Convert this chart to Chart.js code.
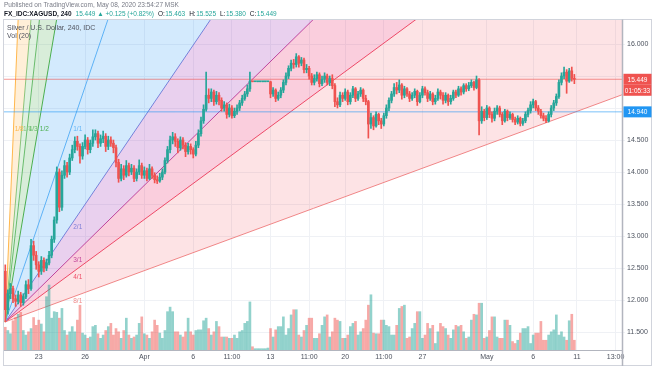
<!DOCTYPE html>
<html>
<head>
<meta charset="utf-8">
<script src="https://cdn.jsdelivr.net/npm/chart.js@4.4.1/dist/chart.umd.min.js"></script>
<style>
  html, body { margin: 0; padding: 0; background: #fff; }
</style>
</head>
<body>
<canvas id="chart" width="654" height="366"></canvas>
<script>
// XAGUSD 240 candles, Mar 19 - May 8 2020
const firstOpen = 12.45;
const close = [
  11.85, 12.10, 12.18, 12.02, 11.98, 12.08, 11.96, 12.05, 12.24, 12.18,
  12.85, 12.70, 12.55, 12.45, 12.62, 12.50, 12.58, 12.70,
  12.95, 13.25, 14.00, 13.45, 13.95, 14.10, 14.00, 14.22,
  14.35, 14.48, 14.40, 14.25,
  14.40, 14.50, 14.35, 14.45, 14.55, 14.60, 14.45, 14.52, 14.56, 14.40, 14.50, 14.45, 14.38,
  14.15, 13.90,
  14.05, 13.95, 14.10, 14.00, 14.06, 13.90, 14.00, 14.10, 13.95, 14.02, 13.90, 14.05, 13.95, 13.88, 13.86, 13.92, 14.00,
  14.18, 14.35, 14.50, 14.55, 14.48,
  14.38, 14.50, 14.42, 14.32, 14.40, 14.35, 14.28, 14.42,
  14.60, 14.80, 14.98, 15.20,
  15.15, 15.25, 15.10, 15.20, 15.12,
  15.00, 15.05, 14.90, 15.00, 14.88, 14.95,
  15.00, 15.08, 15.15, 15.22, 15.30, 15.42,
  15.41, 15.41, 15.41, 15.41, 15.41, 15.41, 15.41,
  15.22, 15.28, 15.15, 15.20, 15.28,
  15.40, 15.50, 15.62, 15.70, 15.68, 15.80,
  15.70, 15.75, 15.60, 15.62,
  15.50, 15.40, 15.46, 15.52, 15.38, 15.45, 15.50, 15.40, 15.46, 15.35,
  15.10, 15.05,
  15.20, 15.15, 15.25, 15.10, 15.20, 15.30, 15.15, 15.22, 15.28, 15.15, 15.10,
  14.75,
  14.85, 14.72, 14.90, 14.80, 14.75,
  14.88, 15.00, 15.12, 15.22, 15.32, 15.28,
  15.36, 15.20, 15.30, 15.22, 15.15, 15.20, 15.26, 15.10, 15.20, 15.30, 15.24, 15.15, 15.22, 15.10, 15.15, 15.25, 15.20,
  15.12, 15.20, 15.10, 15.15, 15.25, 15.20, 15.30, 15.25, 15.35, 15.30, 15.35, 15.40, 15.32, 15.44,
  14.80,
  14.95, 14.85, 15.00, 14.90, 14.84, 14.95, 15.00, 14.90, 14.80, 14.95, 14.85, 14.90,
  14.82, 14.78, 14.84, 14.76, 14.80,
  14.90, 14.96, 15.05, 15.10, 15.00,
  14.95, 14.88, 14.84, 14.80,
  14.90, 15.00, 15.08, 15.18, 15.40,
  15.50, 15.56, 15.42, 15.58, 15.463, 15.449
];
const high = [
  12.55, 12.16, 12.26, 12.22, 12.08, 12.14, 12.12, 12.10, 12.30, 12.32,
  12.95, 12.92, 12.76, 12.60, 12.68, 12.66, 12.64, 12.76,
  13.00, 13.30, 14.08, 14.05, 14.02, 14.18, 14.15, 14.28,
  14.42, 14.55, 14.56, 14.44,
  14.46, 14.58, 14.54, 14.50, 14.66, 14.66, 14.64, 14.58, 14.64, 14.60, 14.56, 14.55, 14.50,
  14.42, 14.20,
  14.12, 14.10, 14.18, 14.14, 14.12, 14.10, 14.05, 14.19, 14.14, 14.08, 14.06, 14.12, 14.08, 13.99, 13.94, 13.98, 14.05,
  14.22, 14.40, 14.56, 14.62, 14.60,
  14.52, 14.55, 14.54, 14.46, 14.45, 14.44, 14.38, 14.48,
  14.66, 14.86, 15.05, 15.56,
  15.30, 15.30, 15.28, 15.26, 15.24,
  15.16, 15.10, 15.08, 15.06, 15.04, 15.00,
  15.05, 15.12, 15.20, 15.26, 15.36, 15.56,
  15.42, 15.41, 15.41, 15.41, 15.41, 15.41, 15.41,
  15.42, 15.32, 15.30, 15.25, 15.32,
  15.44, 15.55, 15.66, 15.75, 15.76, 15.85,
  15.82, 15.79, 15.78, 15.68,
  15.65, 15.54, 15.52, 15.56, 15.55, 15.50, 15.55, 15.53, 15.50, 15.52,
  15.38, 15.16,
  15.25, 15.24, 15.30, 15.28, 15.24, 15.34, 15.32, 15.26, 15.32, 15.30, 15.20,
  15.12,
  14.92, 14.88, 14.94, 14.92, 14.84,
  14.92, 15.05, 15.16, 15.26, 15.38, 15.40,
  15.44, 15.38, 15.34, 15.32, 15.26, 15.24, 15.30, 15.28, 15.24, 15.34, 15.33, 15.28, 15.26, 15.24, 15.20, 15.30, 15.28,
  15.24, 15.24, 15.22, 15.20, 15.28, 15.28, 15.34, 15.33, 15.38, 15.38, 15.40, 15.44, 15.42, 15.50,
  15.46,
  15.02, 14.98, 15.04, 15.02, 14.94, 15.00, 15.04, 15.03, 14.93, 14.98, 14.97, 14.94,
  14.92, 14.86, 14.88, 14.86, 14.84,
  14.94, 15.00, 15.10, 15.14, 15.12,
  15.04, 14.98, 14.92, 14.88,
  14.94, 15.04, 15.12, 15.22, 15.44,
  15.55, 15.64, 15.60, 15.62, 15.64, 15.525
];
const low = [
  11.66, 11.78, 12.02, 11.96, 11.90, 11.94, 11.90, 11.92, 12.02, 12.10,
  12.15, 12.62, 12.48, 12.36, 12.40, 12.44, 12.46, 12.55,
  12.66, 12.90, 13.20, 13.38, 13.40, 13.90, 13.92, 13.96,
  14.18, 14.30, 14.34, 14.14,
  14.20, 14.36, 14.28, 14.30, 14.40, 14.50, 14.38, 14.40, 14.46, 14.32, 14.35, 14.40, 14.30,
  14.08, 13.84,
  13.86, 13.88, 13.92, 13.94, 13.96, 13.85, 13.86, 13.96, 13.90, 13.90, 13.86, 13.88, 13.90, 13.83, 13.82, 13.84, 13.88,
  13.97, 14.14, 14.30, 14.44, 14.40,
  14.30, 14.34, 14.36, 14.24, 14.28, 14.28, 14.22, 14.25,
  14.38, 14.56, 14.76, 14.95,
  15.08, 15.10, 15.04, 15.06, 15.05,
  14.95, 14.95, 14.84, 14.86, 14.84, 14.85,
  14.90, 14.96, 15.04, 15.12, 15.18, 15.26,
  15.41, 15.41, 15.41, 15.41, 15.41, 15.41, 15.41,
  15.16, 15.18, 15.10, 15.12, 15.16,
  15.24, 15.36, 15.46, 15.58, 15.62, 15.64,
  15.64, 15.66, 15.55, 15.55,
  15.45, 15.36, 15.36, 15.42, 15.33, 15.35, 15.40, 15.36, 15.35, 15.30,
  15.02, 15.00,
  15.02, 15.10, 15.12, 15.05, 15.06, 15.16, 15.10, 15.12, 15.18, 15.10, 15.05,
  14.53,
  14.68, 14.66, 14.70, 14.74, 14.68,
  14.72, 14.84, 14.96, 15.08, 15.18, 15.22,
  15.24, 15.14, 15.16, 15.18, 15.10, 15.12, 15.16, 15.04, 15.08, 15.16, 15.20, 15.10, 15.12, 15.05, 15.06, 15.12, 15.14,
  15.06, 15.08, 15.04, 15.06, 15.12, 15.16, 15.18, 15.20, 15.22, 15.26, 15.27, 15.32, 15.28, 15.30,
  14.58,
  14.76, 14.80, 14.82, 14.85, 14.78, 14.80, 14.90, 14.86, 14.74, 14.78, 14.80, 14.82,
  14.78, 14.74, 14.75, 14.72, 14.73,
  14.77, 14.86, 14.92, 15.00, 14.96,
  14.90, 14.84, 14.80, 14.77,
  14.78, 14.86, 14.96, 15.04, 15.15,
  15.36, 15.46, 15.23, 15.40, 15.42, 15.38
];
const volume = [
  35, 30, 25, 45, 50, 55, 58, 30, 23, 28,
  33, 50, 38, 46, 40, 28, 82, 100, 49, 59,
  58, 49, 64, 30, 23, 28, 36, 28, 46, 69,
  26, 23, 18, 20, 36, 38, 25, 18, 23, 30,
  36, 41, 23, 33, 28, 18, 30, 49, 23, 18,
  20, 23, 41, 51, 25, 23, 18, 28, 46, 38,
  26, 18, 30, 59, 66, 59, 28, 28, 23, 20,
  28, 49, 28, 23, 30, 31, 31, 45, 49, 33,
  23, 28, 44, 36, 20, 20, 20, 18, 18, 23,
  18, 28, 30, 41, 44, 74, 5, 2, 2, 2,
  2, 2, 3, 33, 20, 31, 36, 36, 51, 23,
  33, 54, 62, 62, 23, 20, 30, 38, 49, 49,
  18, 18, 25, 38, 51, 54, 20, 28, 49, 46,
  44, 18, 18, 23, 36, 41, 44, 23, 28, 33,
  46, 69, 85, 26, 25, 25, 46, 46, 38, 36,
  23, 23, 38, 64, 67, 69, 18, 20, 33, 41,
  59, 59, 18, 23, 41, 33, 38, 10, 28, 41,
  36, 33, 23, 18, 31, 38, 36, 38, 28, 18,
  20, 46, 55, 54, 72, 72, 18, 20, 30, 51,
  51, 20, 18, 18, 46, 46, 38, 13, 10, 15,
  26, 33, 33, 36, 10, 23, 26, 26, 44, 15,
  15, 23, 28, 31, 54, 23, 28, 20, 15, 45,
  55, 15
];

// time axis: bar index of each label
const xTickIdx = [13, 31, 54, 73, 88, 103, 118, 132, 147, 162, 187, 205, 222, 237];
const xTickText = ['23', '26', 'Apr', '6', '11:00', '13', '11:00', '20', '11:00', '27', 'May', '6', '11', '13:00'];
const yTicks = [11.5, 12, 12.5, 13, 13.5, 14, 14.5, 15, 15.5, 16];

const lastPrice = 15.449;
const levelPrice = 14.94;
const countdown = '01:05:33';

// gann fan anchors (bar index, price)
const fanOrigin = { x: 0, y: 11.66 };
const fanAnchor = { x: 26, y: 14.74 };
const fanLevels = ['1/8', '1/4', '1/3', '1/2', '1/1', '2/1', '3/1', '4/1', '8/1'];
const fanLine = ['#ffb74d', '#81c784', '#66bb6a', '#4caf50', '#64b5f6', '#7e7fd6', '#c2479b', '#ee4f68', '#f08c8c'];
const fanFill = [
  'rgba(255,167,38,0.18)', 'rgba(129,199,132,0.25)', 'rgba(76,175,80,0.22)',
  'rgba(33,150,243,0.2)', 'rgba(33,150,243,0.2)', 'rgba(156,39,176,0.22)',
  'rgba(233,30,99,0.22)', 'rgba(242,54,69,0.14)'
];

const UP = '#26a69a';
const DOWN = '#ef5350';
const X_MAX = 239.5;
const FONT = "'Liberation Sans', Arial, sans-serif";

const opens = close.map((c, i) => (i === 0 ? firstOpen : close[i - 1]));
const isUp = i => close[i] >= opens[i];
const idx = close.map((_, i) => i);
const slope = (fanAnchor.y - fanOrigin.y) / (fanAnchor.x - fanOrigin.x);
const ratio = lbl => { const [a, b] = lbl.split('/').map(Number); return b / a; };

const fanSets = fanLevels.map((lbl, k) => ({
  type: 'line',
  data: [fanOrigin, { x: X_MAX, y: fanOrigin.y + slope * ratio(lbl) * (X_MAX - fanOrigin.x) }],
  borderColor: fanLine[k],
  borderWidth: 1,
  pointRadius: 0,
  fill: k < fanLevels.length - 1 ? '+1' : false,
  backgroundColor: fanFill[k] || 'transparent',
  order: 10
}));

const hLine = (price, color) => ({
  type: 'line',
  data: [{ x: -0.5, y: price }, { x: X_MAX, y: price }],
  borderColor: color,
  borderWidth: 1,
  pointRadius: 0,
  fill: false,
  order: 4
});

// tick labels hidden under the axis price boxes, as TradingView does
const coveredTick = v => Math.abs(v - lastPrice) < 0.15 || Math.abs(v - levelPrice) < 0.1;

const overlay = {
  id: 'overlay',
  afterDatasetsDraw(chart) {
    const { ctx, scales: { x, y } } = chart;
    ctx.save();
    ctx.font = '6.5px ' + FONT;
    ctx.textAlign = 'left';
    ctx.textBaseline = 'top';
    fanLevels.forEach((lbl, k) => {
      const m = ratio(lbl);
      let px, py;
      if (m > 1) {
        px = x.getPixelForValue(fanOrigin.x + (fanAnchor.y - fanOrigin.y) / (slope * m));
        py = y.getPixelForValue(fanAnchor.y);
      } else {
        px = x.getPixelForValue(fanAnchor.x);
        py = y.getPixelForValue(fanOrigin.y + slope * m * (fanAnchor.x - fanOrigin.x));
      }
      ctx.fillStyle = fanLine[k];
      ctx.fillText(lbl, px + 1, py + 1);
    });
    ctx.restore();
  },
  afterDraw(chart) {
    const { ctx, chartArea: a, scales: { y } } = chart;
    ctx.save();

    // frame + price axis separator
    ctx.strokeStyle = '#d1d4dc';
    ctx.lineWidth = 1;
    ctx.strokeRect(3.5, 19.5, 648, 346);
    ctx.strokeStyle = '#b2b5be';
    ctx.lineWidth = 1.5;
    ctx.beginPath();
    ctx.moveTo(a.right + 0.5, 19.5);
    ctx.lineTo(a.right + 0.5, 366);
    ctx.stroke();

    // price labels on the axis
    const box = (price, text, color, dy, h) => {
      const py = y.getPixelForValue(price) + dy;
      ctx.fillStyle = color;
      ctx.fillRect(a.right + 1.5, py - h / 2, 28, h);
      ctx.fillStyle = '#fff';
      ctx.font = '6.5px ' + FONT;
      ctx.textAlign = 'center';
      ctx.textBaseline = 'middle';
      ctx.fillText(text, a.right + 15.5, py + 0.5);
    };
    box(lastPrice, lastPrice.toFixed(3), DOWN, 0, 11);
    box(lastPrice, countdown, DOWN, 11, 11);
    box(levelPrice, levelPrice.toFixed(3), '#2196f3', 0, 11);

    // header lines
    ctx.textAlign = 'left';
    ctx.textBaseline = 'middle';
    ctx.font = '6.5px ' + FONT;
    ctx.fillStyle = '#787b86';
    ctx.fillText('Published on TradingView.com, May 08, 2020 23:54:27 MSK', 4, 5);

    const n = close.length - 1;
    const parts = [
      ['FX_IDC:XAGUSD, 240', '#131722', true],
      [close[n].toFixed(3) + ' \u25B2 +0.125 (+0.82%)', UP, false],
      ['O:', '#131722', false], [opens[n].toFixed(3), UP, false],
      ['H:', '#131722', false], [high[n].toFixed(3), UP, false],
      ['L:', '#131722', false], [low[n].toFixed(3), UP, false],
      ['C:', '#131722', false], [close[n].toFixed(3), UP, false]
    ];
    let cx = 4;
    parts.forEach(([t, c, b]) => {
      ctx.font = (b ? 'bold ' : '') + '6.5px ' + FONT;
      ctx.fillStyle = c;
      ctx.fillText(t, cx, 14);
      cx += ctx.measureText(t).width + (t.endsWith(':') ? 0.5 : 4);
    });

    ctx.font = '7px ' + FONT;
    ctx.fillStyle = '#50535e';
    ctx.fillText('Silver / U.S. Dollar, 240, IDC', 7, 28);
    ctx.fillText('Vol (20)', 7, 36);
    ctx.restore();
  }
};

Chart.defaults.font.family = FONT;

new Chart(document.getElementById('chart'), {
  type: 'bar',
  data: {
    datasets: [
      {
        type: 'bar',
        data: idx.map(i => ({ x: i, y: [opens[i], close[i]] })),
        backgroundColor: c => (isUp(c.dataIndex) ? UP : DOWN),
        barThickness: 2,
        minBarLength: 1,
        grouped: false,
        order: 0
      },
      {
        type: 'bar',
        data: idx.map(i => ({ x: i, y: [low[i], high[i]] })),
        backgroundColor: c => (isUp(c.dataIndex) ? UP : DOWN),
        barThickness: 1,
        grouped: false,
        order: 1
      },
      {
        type: 'bar',
        data: idx.map(i => ({ x: i, y: volume[i] })),
        backgroundColor: c => (isUp(c.dataIndex) ? 'rgba(38,166,154,0.5)' : 'rgba(239,83,80,0.5)'),
        barThickness: 2,
        grouped: false,
        yAxisID: 'yVol',
        order: 3
      },
      hLine(lastPrice, 'rgba(239,83,80,0.6)'),
      hLine(levelPrice, 'rgba(33,150,243,0.6)'),
      ...fanSets
    ]
  },
  options: {
    responsive: false,
    animation: false,
    devicePixelRatio: 1,
    layout: { padding: { left: 4, right: 3, top: 20, bottom: 1 } },
    plugins: { legend: { display: false }, tooltip: { enabled: false } },
    scales: {
      x: {
        type: 'linear',
        offset: false,
        min: -0.5,
        max: X_MAX,
        afterBuildTicks: s => { s.ticks = xTickIdx.map(v => ({ value: v })); },
        afterFit: s => { s.height = 15; },
        ticks: {
          callback: (v, i) => xTickText[i],
          autoSkip: false,
          maxRotation: 0,
          color: '#4c525e',
          font: { size: 7 },
          padding: 3
        },
        grid: { color: '#eff1f5', drawTicks: false, offset: false },
        border: { color: '#b2b5be' }
      },
      y: {
        position: 'right',
        min: 11.22,
        max: 16.375,
        afterBuildTicks: s => { s.ticks = yTicks.map(v => ({ value: v })); },
        afterFit: s => { s.width = 29; },
        ticks: {
          callback: v => (coveredTick(v) ? '' : v.toFixed(3)),
          color: '#4c525e',
          font: { size: 7 },
          padding: 2
        },
        grid: { color: '#eff1f5', tickLength: 3 },
        border: { display: false }
      },
      yVol: { display: false, min: 0, max: 508 }
    }
  },
  plugins: [overlay]
});
</script>
</body>
</html>
